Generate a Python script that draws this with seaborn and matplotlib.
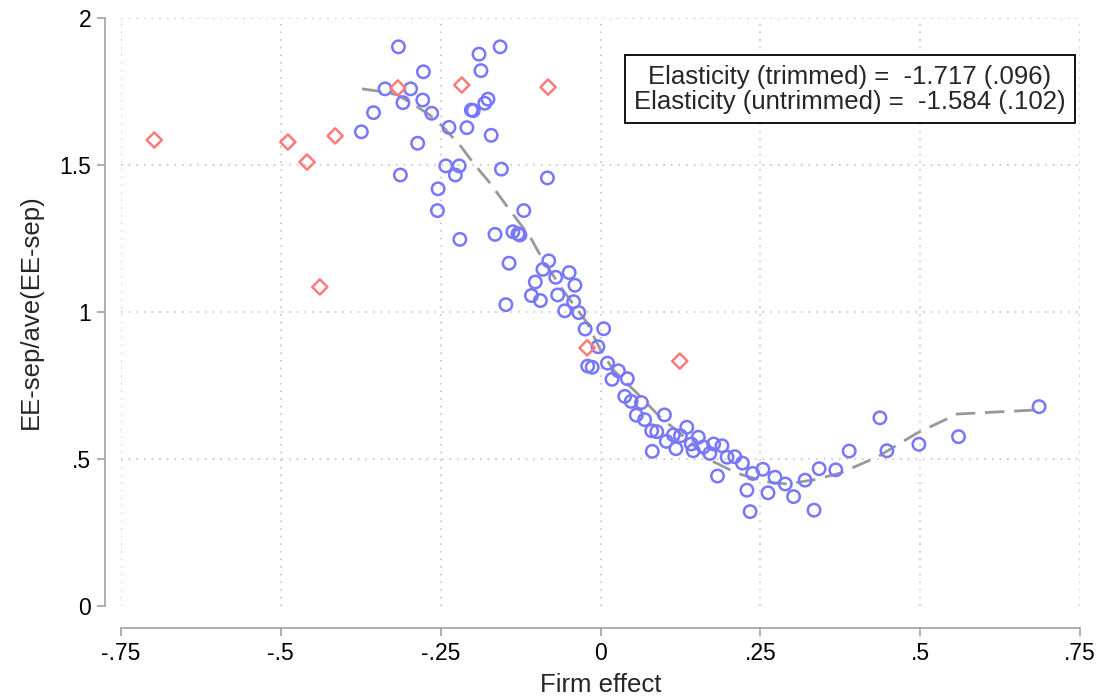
import numpy as np
import pandas as pd
import matplotlib
matplotlib.use("Agg")
import matplotlib.pyplot as plt
import seaborn as sns

# Data
# trimmed sample (blue circles)
firm_x = [-0.316, -0.157, -0.190, -0.277, -0.187, -0.337, -0.297, -0.309, -0.278, -0.176,
          -0.181, -0.355, -0.264, -0.202, -0.199, -0.374, -0.237, -0.209, -0.171, -0.286,
          -0.242, -0.221, -0.227, -0.313, -0.155, -0.083, -0.254, -0.255, -0.120, -0.220,
          -0.165, -0.137, -0.129, -0.126, -0.143, -0.081, -0.090, -0.049, -0.070, -0.102,
          -0.040, -0.067, -0.108, -0.094, -0.042, -0.148, -0.056, -0.034, -0.024, 0.005,
          -0.004, -0.020, -0.013, 0.011, 0.028, 0.018, 0.042, 0.038, 0.048, 0.064,
          0.056, 0.069, 0.100, 0.080, 0.088, 0.135, 0.114, 0.125, 0.103, 0.153,
          0.142, 0.118, 0.161, 0.177, 0.190, 0.145, 0.171, 0.081, 0.198, 0.210,
          0.222, 0.183, 0.238, 0.254, 0.273, 0.289, 0.320, 0.342, 0.229, 0.262,
          0.302, 0.234, 0.334, 0.368, 0.389, 0.437, 0.448, 0.498, 0.560, 0.686]
sep_y = [1.902, 1.902, 1.877, 1.817, 1.821, 1.759, 1.759, 1.712, 1.721, 1.724,
         1.710, 1.678, 1.676, 1.687, 1.685, 1.613, 1.628, 1.627, 1.601, 1.574,
         1.497, 1.497, 1.466, 1.466, 1.486, 1.456, 1.419, 1.345, 1.345, 1.247,
         1.264, 1.273, 1.266, 1.262, 1.166, 1.174, 1.145, 1.134, 1.118, 1.102,
         1.091, 1.058, 1.056, 1.039, 1.035, 1.025, 1.004, 0.998, 0.942, 0.943,
         0.882, 0.816, 0.812, 0.826, 0.800, 0.771, 0.773, 0.713, 0.696, 0.692,
         0.649, 0.634, 0.650, 0.596, 0.593, 0.608, 0.582, 0.579, 0.560, 0.574,
         0.551, 0.535, 0.541, 0.551, 0.545, 0.528, 0.519, 0.526, 0.506, 0.508,
         0.486, 0.442, 0.451, 0.465, 0.438, 0.415, 0.428, 0.467, 0.394, 0.385,
         0.372, 0.321, 0.326, 0.463, 0.527, 0.640, 0.528, 0.550, 0.576, 0.678]

# trimmed-out observations (red diamonds)
out_x = [-0.698, -0.489, -0.459, -0.415, -0.439, -0.317, -0.217, -0.082, -0.021, 0.124]
out_y = [1.585, 1.578, 1.510, 1.599, 1.085, 1.762, 1.772, 1.765, 0.878, 0.833]

# smoothed fit (dashed line)
fit_x = [-0.373, -0.337, -0.317, -0.286, -0.267, -0.246, -0.220, -0.199, -0.173, -0.142,
         -0.110, -0.090, -0.059, -0.021, 0.000, 0.020, 0.057, 0.093, 0.124, 0.171,
         0.213, 0.260, 0.292, 0.333, 0.375, 0.433, 0.495, 0.558, 0.683]
fit_y = [1.759, 1.748, 1.738, 1.697, 1.670, 1.629, 1.568, 1.507, 1.439, 1.347,
         1.255, 1.177, 1.075, 0.963, 0.871, 0.803, 0.724, 0.643, 0.588, 0.497,
         0.452, 0.422, 0.415, 0.429, 0.452, 0.507, 0.588, 0.653, 0.667]

x_ticks = [-0.75, -0.5, -0.25, 0, 0.25, 0.5, 0.75]
x_labels = ["-.75", "-.5", "-.25", "0", ".25", ".5", ".75"]
y_ticks = [0, 0.5, 1, 1.5, 2]
y_labels = ["0", ".5", "1", "1.5", "2"]
y_grid = [0.5, 1, 1.5, 2]

note = "Elasticity (trimmed) =  -1.717 (.096)\nElasticity (untrimmed) =  -1.584 (.102)"

df_in = pd.DataFrame({"x": firm_x, "y": sep_y})
df_out = pd.DataFrame({"x": out_x, "y": out_y})
df_fit = pd.DataFrame({"x": fit_x, "y": fit_y})

sns.set_style("white")
plt.rcParams["font.family"] = ["Liberation Sans", "DejaVu Sans"]

fig = plt.figure(figsize=(10.99, 7), dpi=100)
ax = fig.add_axes([121 / 1099, 94 / 700, 959 / 1099, 588 / 700])

# dotted grid drawn by hand so that there is none at y = 0
grid_kw = dict(linestyle=(0, (1, 4)), color="#bbbbbb", linewidth=1.1, zorder=1)
for gx in x_ticks:
    ax.axvline(gx, **grid_kw)
for gy in y_grid:
    ax.axhline(gy, **grid_kw)

sns.lineplot(data=df_fit, x="x", y="y", ax=ax, sort=False, estimator=None,
             color="#999999", linewidth=2, dashes=False, zorder=2)
ax.lines[-1].set_dashes([7, 3.5])

sns.scatterplot(data=df_in, x="x", y="y", ax=ax, marker="o", s=80,
                facecolor="none", edgecolor="#7777ff", linewidth=1.8, zorder=3)
sns.scatterplot(data=df_out, x="x", y="y", ax=ax, marker="D", s=60,
                facecolor="none", edgecolor="#ff7a7a", linewidth=1.8, zorder=3)

ax.set_xlim(-0.75, 0.75)
ax.set_ylim(0, 2)
ax.set_xticks(x_ticks)
ax.set_xticklabels(x_labels)
ax.set_yticks(y_ticks)
ax.set_yticklabels(y_labels)

for side in ["top", "right"]:
    ax.spines[side].set_visible(False)
ax.spines["left"].set_position(("outward", 11.5))
ax.spines["bottom"].set_position(("outward", 16))
for side in ["left", "bottom"]:
    ax.spines[side].set_color("#a8a8a8")
    ax.spines[side].set_linewidth(1.3)

ax.tick_params(axis="both", direction="out", length=6, width=1.3, color="#a8a8a8",
               labelsize=16.5, labelcolor="black", pad=4,
               left=True, bottom=True)

ax.set_xlabel("Firm effect", fontsize=18.5, labelpad=6)
ax.set_ylabel("EE-sep/ave(EE-sep)", fontsize=18.5, labelpad=12)

ax.text(0.76, 0.879, note, transform=ax.transAxes, ha="center", va="center",
        multialignment="center", fontsize=18.5, linespacing=1.05, zorder=5,
        bbox=dict(boxstyle="square,pad=0.36", facecolor="white",
                  edgecolor="black", linewidth=1.3))

fig.savefig("out.png", dpi=100)
